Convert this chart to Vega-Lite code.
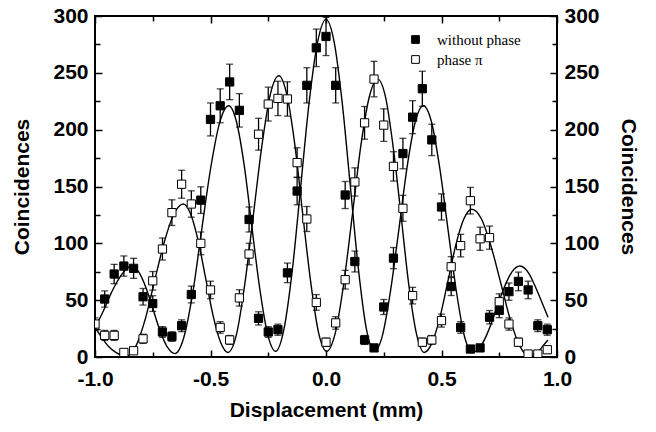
{
  "$schema": "https://vega.github.io/schema/vega-lite/v6.json",
  "width": 462,
  "height": 341,
  "autosize": {"type": "none"},
  "padding": {"left": 95, "top": 16, "right": 99, "bottom": 75},
  "background": "white",
  "config": {
    "view": {"stroke": "black", "strokeWidth": 2},
    "axis": {
      "domain": false,
      "grid": false,
      "labelFont": "Liberation Sans",
      "labelFontWeight": "bold",
      "labelFontSize": 21,
      "labelColor": "black",
      "titleFont": "Liberation Sans",
      "titleFontWeight": "bold",
      "titleFontSize": 21,
      "titleColor": "black",
      "tickColor": "black",
      "tickWidth": 1.5,
      "labelFlush": false,
      "labelOverlap": false
    },
    "legend": {
      "orient": "none",
      "legendX": 313,
      "legendY": 16,
      "padding": 0,
      "labelFont": "Liberation Serif",
      "labelFontSize": 15,
      "labelColor": "black",
      "symbolType": "square",
      "symbolSize": 60,
      "symbolStrokeColor": "black",
      "symbolStrokeWidth": 1,
      "rowPadding": 4,
      "labelOffset": 14
    }
  },
  "datasets": {
    "pts": [
      {"x": -0.958, "y": 51, "e": 7.1, "s": "without phase"},
      {"x": -0.917, "y": 73, "e": 8.5, "s": "without phase"},
      {"x": -0.875, "y": 80, "e": 8.9, "s": "without phase"},
      {"x": -0.833, "y": 78, "e": 8.8, "s": "without phase"},
      {"x": -0.792, "y": 53, "e": 7.3, "s": "without phase"},
      {"x": -0.75, "y": 47, "e": 6.9, "s": "without phase"},
      {"x": -0.708, "y": 22, "e": 4.7, "s": "without phase"},
      {"x": -0.667, "y": 18, "e": 4.2, "s": "without phase"},
      {"x": -0.625, "y": 27.5, "e": 5.2, "s": "without phase"},
      {"x": -0.583, "y": 55, "e": 7.4, "s": "without phase"},
      {"x": -0.542, "y": 138, "e": 11.7, "s": "without phase"},
      {"x": -0.5, "y": 209, "e": 14.5, "s": "without phase"},
      {"x": -0.458, "y": 221, "e": 14.9, "s": "without phase"},
      {"x": -0.417, "y": 242, "e": 15.6, "s": "without phase"},
      {"x": -0.375, "y": 217, "e": 14.7, "s": "without phase"},
      {"x": -0.333, "y": 121, "e": 11, "s": "without phase"},
      {"x": -0.292, "y": 34, "e": 5.8, "s": "without phase"},
      {"x": -0.25, "y": 22, "e": 4.7, "s": "without phase"},
      {"x": -0.208, "y": 24, "e": 4.9, "s": "without phase"},
      {"x": -0.167, "y": 74, "e": 8.6, "s": "without phase"},
      {"x": -0.125, "y": 146, "e": 12.1, "s": "without phase"},
      {"x": -0.083, "y": 239, "e": 15.5, "s": "without phase"},
      {"x": -0.042, "y": 272, "e": 16.5, "s": "without phase"},
      {"x": 0, "y": 282, "e": 16.8, "s": "without phase"},
      {"x": 0.042, "y": 239, "e": 15.5, "s": "without phase"},
      {"x": 0.083, "y": 142.5, "e": 11.9, "s": "without phase"},
      {"x": 0.125, "y": 84, "e": 9.2, "s": "without phase"},
      {"x": 0.167, "y": 15, "e": 3.9, "s": "without phase"},
      {"x": 0.208, "y": 8, "e": 2.8, "s": "without phase"},
      {"x": 0.25, "y": 44, "e": 6.6, "s": "without phase"},
      {"x": 0.292, "y": 87, "e": 9.3, "s": "without phase"},
      {"x": 0.333, "y": 179, "e": 13.4, "s": "without phase"},
      {"x": 0.375, "y": 211, "e": 14.5, "s": "without phase"},
      {"x": 0.417, "y": 236, "e": 15.4, "s": "without phase"},
      {"x": 0.458, "y": 191, "e": 13.8, "s": "without phase"},
      {"x": 0.5, "y": 132, "e": 11.5, "s": "without phase"},
      {"x": 0.542, "y": 62, "e": 7.9, "s": "without phase"},
      {"x": 0.583, "y": 26, "e": 5.1, "s": "without phase"},
      {"x": 0.625, "y": 7, "e": 2.6, "s": "without phase"},
      {"x": 0.667, "y": 8, "e": 2.8, "s": "without phase"},
      {"x": 0.708, "y": 35, "e": 5.9, "s": "without phase"},
      {"x": 0.75, "y": 41, "e": 6.4, "s": "without phase"},
      {"x": 0.792, "y": 57.5, "e": 7.6, "s": "without phase"},
      {"x": 0.833, "y": 66.5, "e": 8.2, "s": "without phase"},
      {"x": 0.875, "y": 59, "e": 7.7, "s": "without phase"},
      {"x": 0.917, "y": 27.5, "e": 5.2, "s": "without phase"},
      {"x": 0.958, "y": 24, "e": 4.9, "s": "without phase"},
      {"x": -1.0, "y": 29, "e": 5.4, "s": "phase π"},
      {"x": -0.958, "y": 19, "e": 4.4, "s": "phase π"},
      {"x": -0.917, "y": 19, "e": 4.4, "s": "phase π"},
      {"x": -0.875, "y": 4, "e": 2, "s": "phase π"},
      {"x": -0.833, "y": 5.5, "e": 2.3, "s": "phase π"},
      {"x": -0.792, "y": 16, "e": 4, "s": "phase π"},
      {"x": -0.75, "y": 67, "e": 8.2, "s": "phase π"},
      {"x": -0.708, "y": 95, "e": 9.7, "s": "phase π"},
      {"x": -0.667, "y": 127, "e": 11.3, "s": "phase π"},
      {"x": -0.625, "y": 152, "e": 12.3, "s": "phase π"},
      {"x": -0.583, "y": 134.6, "e": 11.6, "s": "phase π"},
      {"x": -0.542, "y": 100, "e": 10, "s": "phase π"},
      {"x": -0.5, "y": 59, "e": 7.7, "s": "phase π"},
      {"x": -0.458, "y": 26, "e": 5.1, "s": "phase π"},
      {"x": -0.417, "y": 15, "e": 3.9, "s": "phase π"},
      {"x": -0.375, "y": 52, "e": 7.2, "s": "phase π"},
      {"x": -0.333, "y": 90.6, "e": 9.5, "s": "phase π"},
      {"x": -0.292, "y": 196, "e": 14, "s": "phase π"},
      {"x": -0.25, "y": 222.5, "e": 14.9, "s": "phase π"},
      {"x": -0.208, "y": 227.5, "e": 15.1, "s": "phase π"},
      {"x": -0.167, "y": 227, "e": 15.1, "s": "phase π"},
      {"x": -0.125, "y": 171, "e": 13.1, "s": "phase π"},
      {"x": -0.083, "y": 121.4, "e": 11, "s": "phase π"},
      {"x": -0.042, "y": 48, "e": 6.9, "s": "phase π"},
      {"x": 0, "y": 13, "e": 3.6, "s": "phase π"},
      {"x": 0.042, "y": 30, "e": 5.5, "s": "phase π"},
      {"x": 0.083, "y": 68, "e": 8.2, "s": "phase π"},
      {"x": 0.125, "y": 154, "e": 12.4, "s": "phase π"},
      {"x": 0.167, "y": 206, "e": 14.4, "s": "phase π"},
      {"x": 0.208, "y": 244.5, "e": 15.6, "s": "phase π"},
      {"x": 0.25, "y": 204, "e": 14.3, "s": "phase π"},
      {"x": 0.292, "y": 167.7, "e": 12.9, "s": "phase π"},
      {"x": 0.333, "y": 130.8, "e": 11.4, "s": "phase π"},
      {"x": 0.375, "y": 54, "e": 7.3, "s": "phase π"},
      {"x": 0.417, "y": 13, "e": 3.6, "s": "phase π"},
      {"x": 0.458, "y": 15, "e": 3.9, "s": "phase π"},
      {"x": 0.5, "y": 32, "e": 5.7, "s": "phase π"},
      {"x": 0.542, "y": 79.4, "e": 8.9, "s": "phase π"},
      {"x": 0.583, "y": 98, "e": 9.9, "s": "phase π"},
      {"x": 0.625, "y": 137.5, "e": 11.7, "s": "phase π"},
      {"x": 0.667, "y": 104, "e": 10.2, "s": "phase π"},
      {"x": 0.708, "y": 105, "e": 10.2, "s": "phase π"},
      {"x": 0.75, "y": 48.6, "e": 7, "s": "phase π"},
      {"x": 0.792, "y": 29, "e": 5.4, "s": "phase π"},
      {"x": 0.833, "y": 13, "e": 3.6, "s": "phase π"},
      {"x": 0.875, "y": 2.6, "e": 1.6, "s": "phase π"},
      {"x": 0.917, "y": 2.6, "e": 1.6, "s": "phase π"},
      {"x": 0.958, "y": 6.4, "e": 2.5, "s": "phase π"}
    ],
    "fit": [
      {"x": -1.0, "y": 26, "c": "fit1"},
      {"x": -0.965, "y": 40, "c": "fit1"},
      {"x": -0.935, "y": 54, "c": "fit1"},
      {"x": -0.905, "y": 66, "c": "fit1"},
      {"x": -0.875, "y": 75, "c": "fit1"},
      {"x": -0.842, "y": 80, "c": "fit1"},
      {"x": -0.811, "y": 74.8, "c": "fit1"},
      {"x": -0.779, "y": 60.8, "c": "fit1"},
      {"x": -0.748, "y": 41.5, "c": "fit1"},
      {"x": -0.717, "y": 22.3, "c": "fit1"},
      {"x": -0.685, "y": 8.2, "c": "fit1"},
      {"x": -0.654, "y": 3, "c": "fit1"},
      {"x": -0.615, "y": 17.6, "c": "fit1"},
      {"x": -0.576, "y": 57.5, "c": "fit1"},
      {"x": -0.538, "y": 112, "c": "fit1"},
      {"x": -0.499, "y": 166.5, "c": "fit1"},
      {"x": -0.46, "y": 206.4, "c": "fit1"},
      {"x": -0.421, "y": 221, "c": "fit1"},
      {"x": -0.387, "y": 206.5, "c": "fit1"},
      {"x": -0.353, "y": 167, "c": "fit1"},
      {"x": -0.32, "y": 113, "c": "fit1"},
      {"x": -0.286, "y": 59, "c": "fit1"},
      {"x": -0.252, "y": 19.5, "c": "fit1"},
      {"x": -0.218, "y": 5, "c": "fit1"},
      {"x": -0.182, "y": 24.6, "c": "fit1"},
      {"x": -0.145, "y": 78, "c": "fit1"},
      {"x": -0.109, "y": 151, "c": "fit1"},
      {"x": -0.073, "y": 224, "c": "fit1"},
      {"x": -0.036, "y": 277.4, "c": "fit1"},
      {"x": 0, "y": 297, "c": "fit1"},
      {"x": 0.035, "y": 277.4, "c": "fit1"},
      {"x": 0.07, "y": 224, "c": "fit1"},
      {"x": 0.105, "y": 151, "c": "fit1"},
      {"x": 0.14, "y": 78, "c": "fit1"},
      {"x": 0.175, "y": 24.6, "c": "fit1"},
      {"x": 0.21, "y": 5, "c": "fit1"},
      {"x": 0.245, "y": 19.5, "c": "fit1"},
      {"x": 0.28, "y": 59, "c": "fit1"},
      {"x": 0.316, "y": 113, "c": "fit1"},
      {"x": 0.351, "y": 167, "c": "fit1"},
      {"x": 0.386, "y": 206.5, "c": "fit1"},
      {"x": 0.421, "y": 221, "c": "fit1"},
      {"x": 0.457, "y": 206.5, "c": "fit1"},
      {"x": 0.492, "y": 166.8, "c": "fit1"},
      {"x": 0.528, "y": 112.5, "c": "fit1"},
      {"x": 0.564, "y": 58.3, "c": "fit1"},
      {"x": 0.599, "y": 18.5, "c": "fit1"},
      {"x": 0.635, "y": 4, "c": "fit1"},
      {"x": 0.669, "y": 9.1, "c": "fit1"},
      {"x": 0.703, "y": 23, "c": "fit1"},
      {"x": 0.737, "y": 42, "c": "fit1"},
      {"x": 0.771, "y": 61, "c": "fit1"},
      {"x": 0.805, "y": 74.9, "c": "fit1"},
      {"x": 0.839, "y": 80, "c": "fit1"},
      {"x": 0.88, "y": 73, "c": "fit1"},
      {"x": 0.91, "y": 60, "c": "fit1"},
      {"x": 0.935, "y": 48, "c": "fit1"},
      {"x": 0.961, "y": 35, "c": "fit1"},
      {"x": -1.0, "y": 26, "c": "fit2"},
      {"x": -0.97, "y": 17, "c": "fit2"},
      {"x": -0.94, "y": 9, "c": "fit2"},
      {"x": -0.91, "y": 4, "c": "fit2"},
      {"x": -0.885, "y": 1.5, "c": "fit2"},
      {"x": -0.863, "y": 1, "c": "fit2"},
      {"x": -0.822, "y": 10, "c": "fit2"},
      {"x": -0.781, "y": 34.4, "c": "fit2"},
      {"x": -0.741, "y": 67.8, "c": "fit2"},
      {"x": -0.7, "y": 101.2, "c": "fit2"},
      {"x": -0.659, "y": 125.6, "c": "fit2"},
      {"x": -0.618, "y": 134.6, "c": "fit2"},
      {"x": -0.586, "y": 125.9, "c": "fit2"},
      {"x": -0.553, "y": 102, "c": "fit2"},
      {"x": -0.521, "y": 69.3, "c": "fit2"},
      {"x": -0.489, "y": 36.7, "c": "fit2"},
      {"x": -0.456, "y": 12.8, "c": "fit2"},
      {"x": -0.424, "y": 4, "c": "fit2"},
      {"x": -0.387, "y": 20.3, "c": "fit2"},
      {"x": -0.351, "y": 64.9, "c": "fit2"},
      {"x": -0.314, "y": 125.7, "c": "fit2"},
      {"x": -0.277, "y": 186.6, "c": "fit2"},
      {"x": -0.241, "y": 231.1, "c": "fit2"},
      {"x": -0.204, "y": 247.4, "c": "fit2"},
      {"x": -0.17, "y": 231.2, "c": "fit2"},
      {"x": -0.135, "y": 186.8, "c": "fit2"},
      {"x": -0.101, "y": 126.2, "c": "fit2"},
      {"x": -0.066, "y": 65.6, "c": "fit2"},
      {"x": -0.032, "y": 21.2, "c": "fit2"},
      {"x": 0.003, "y": 5, "c": "fit2"},
      {"x": 0.04, "y": 21, "c": "fit2"},
      {"x": 0.077, "y": 64.9, "c": "fit2"},
      {"x": 0.114, "y": 124.8, "c": "fit2"},
      {"x": 0.15, "y": 184.6, "c": "fit2"},
      {"x": 0.187, "y": 228.5, "c": "fit2"},
      {"x": 0.224, "y": 244.5, "c": "fit2"},
      {"x": 0.258, "y": 228.4, "c": "fit2"},
      {"x": 0.291, "y": 184.4, "c": "fit2"},
      {"x": 0.325, "y": 124.3, "c": "fit2"},
      {"x": 0.358, "y": 64.1, "c": "fit2"},
      {"x": 0.392, "y": 20.1, "c": "fit2"},
      {"x": 0.425, "y": 4, "c": "fit2"},
      {"x": 0.459, "y": 12.4, "c": "fit2"},
      {"x": 0.494, "y": 35.5, "c": "fit2"},
      {"x": 0.528, "y": 67, "c": "fit2"},
      {"x": 0.562, "y": 98.5, "c": "fit2"},
      {"x": 0.597, "y": 121.6, "c": "fit2"},
      {"x": 0.631, "y": 130, "c": "fit2"},
      {"x": 0.673, "y": 121.4, "c": "fit2"},
      {"x": 0.714, "y": 97.8, "c": "fit2"},
      {"x": 0.756, "y": 65.5, "c": "fit2"},
      {"x": 0.797, "y": 33.3, "c": "fit2"},
      {"x": 0.839, "y": 9.6, "c": "fit2"},
      {"x": 0.88, "y": 1, "c": "fit2"},
      {"x": 0.9, "y": 2, "c": "fit2"},
      {"x": 0.92, "y": 5, "c": "fit2"},
      {"x": 0.94, "y": 10, "c": "fit2"},
      {"x": 0.961, "y": 15, "c": "fit2"}
    ]
  },
  "layer": [
    {
      "data": {"name": "fit"},
      "mark": {"type": "line", "interpolate": "monotone", "color": "black", "strokeWidth": 1.4, "clip": true},
      "encoding": {
        "x": {
          "field": "x", "type": "quantitative",
          "scale": {"domain": [-1, 1], "nice": false, "zero": false},
          "axis": {
            "orient": "bottom",
            "title": "Displacement (mm)",
            "values": [-1, -0.75, -0.5, -0.25, 0, 0.25, 0.5, 0.75, 1],
            "labelExpr": "datum.value % 0.5 === 0 ? replace(format(datum.value, '.1f'), '\u2212', '-') : ''",
            "tickSize": {"condition": {"test": "datum.value % 0.5 === 0", "value": -7}, "value": -5},
            "labelPadding": 18,
            "titlePadding": 8
          }
        },
        "y": {
          "field": "y", "type": "quantitative",
          "scale": {"domain": [0, 300], "nice": false},
          "axis": {
            "orient": "left",
            "title": "Coincidences",
            "values": [0, 25, 50, 75, 100, 125, 150, 175, 200, 225, 250, 275, 300],
            "labelExpr": "datum.value % 50 === 0 ? datum.label : ''",
            "tickSize": {"condition": {"test": "datum.value % 50 === 0", "value": -7}, "value": -5},
            "labelPadding": 14,
            "titlePadding": 20
          }
        },
        "detail": {"field": "c"}
      }
    },
    {
      "data": {"name": "pts"},
      "mark": {"type": "errorbar", "ticks": {"size": 7}, "color": "black", "thickness": 1.3, "clip": true},
      "encoding": {
        "x": {"field": "x", "type": "quantitative", "axis": null, "scale": {"domain": [-1, 1], "nice": false, "zero": false}},
        "y": {"field": "y", "type": "quantitative", "axis": null, "scale": {"domain": [0, 300], "nice": false}},
        "yError": {"field": "e"},
        "detail": {"field": "s"}
      }
    },
    {
      "data": {"name": "pts"},
      "mark": {"type": "point", "shape": "square", "filled": true, "size": 68, "stroke": "black", "strokeWidth": 1, "opacity": 1, "clip": true},
      "encoding": {
        "x": {
          "field": "x", "type": "quantitative",
          "scale": {"domain": [-1, 1], "nice": false, "zero": false},
          "axis": {
            "orient": "top",
            "title": null,
            "labels": false,
            "values": [-1, -0.75, -0.5, -0.25, 0, 0.25, 0.5, 0.75, 1],
            "tickSize": {"condition": {"test": "datum.value % 0.5 === 0", "value": -7}, "value": -5}
          }
        },
        "y": {
          "field": "y", "type": "quantitative",
          "scale": {"domain": [0, 300], "nice": false},
          "axis": {
            "orient": "right",
            "title": "Coincidences",
            "values": [0, 25, 50, 75, 100, 125, 150, 175, 200, 225, 250, 275, 300],
            "labelExpr": "datum.value % 50 === 0 ? datum.label : ''",
            "tickSize": {"condition": {"test": "datum.value % 50 === 0", "value": -7}, "value": -5},
            "labelPadding": 14,
            "titlePadding": 18
          }
        },
        "fill": {
          "field": "s", "type": "nominal",
          "scale": {"domain": ["without phase", "phase π"], "range": ["black", "white"]},
          "legend": {"title": null}
        }
      }
    }
  ],
  "resolve": {"axis": {"x": "independent", "y": "independent"}}
}
